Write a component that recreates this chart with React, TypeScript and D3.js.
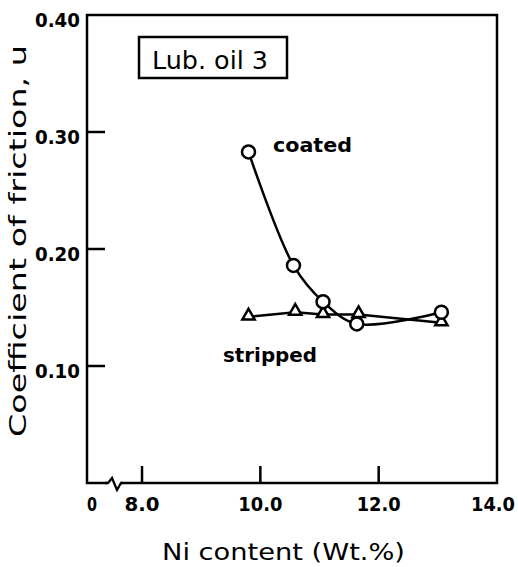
import React from 'react'
import * as d3 from 'd3'

// values
const coatedNi = [9.8, 10.56, 11.06, 11.63, 13.06]
const coatedMu = [0.283, 0.186, 0.155, 0.136, 0.146]
const strippedNi = [9.8, 10.59, 11.06, 11.66, 13.06]
const strippedMu = [0.142, 0.146, 0.144, 0.144, 0.137]
const xTicks = [8, 10, 12, 14]
const yTicks = [0.1, 0.2, 0.3, 0.4]

const W = 518
const H = 567
const left = 87
const right = 497
const top = 15
const bottom = 483

export default function App() {
  const x = d3.scaleLinear().domain([7.07, 14]).range([left, right])
  const y = d3.scaleLinear().domain([0, 0.4]).range([bottom, top])

  const coated = coatedNi.map((v, i) => [x(v), y(coatedMu[i])] as [number, number])
  const stripped = strippedNi.map((v, i) => [x(v), y(strippedMu[i])] as [number, number])

  const curve = d3.line().curve(d3.curveCatmullRom.alpha(0.5))
  const straight = d3.line()
  const tri = d3.symbol().type(d3.symbolTriangle).size(65)

  const font = "'DejaVu Sans', sans-serif"

  return (
    <svg width={W} height={H} style={{ position: 'absolute', left: 0, top: 0, background: '#fff' }}>
      {/* frame */}
      <rect x={left} y={top} width={right - left} height={bottom - top} fill="none" stroke="#000" strokeWidth={2.5} />
      {/* axis break */}
      <path d={`M${left + 20},${bottom} l14,0`} stroke="#fff" strokeWidth={4} />
      <path d={`M${left + 18},${bottom} l3,0 l4,-5 l5,12 l4,-7 l2,0`} fill="none" stroke="#000" strokeWidth={2.3} />

      {yTicks.filter(t => t < 0.4).map(t => (
        <line key={'yt' + t} x1={left} x2={left + 18} y1={y(t)} y2={y(t)} stroke="#000" strokeWidth={2.5} />
      ))}
      {xTicks.filter(t => t < 14).map(t => (
        <line key={'xt' + t} x1={x(t)} x2={x(t)} y1={bottom} y2={bottom - 17} stroke="#000" strokeWidth={2.5} />
      ))}

      {yTicks.map(t => (
        <text key={'yl' + t} x={left - 52} y={y(t) + 12} fontFamily={font} fontWeight="bold" fontSize={19}
          textLength={45} lengthAdjust="spacingAndGlyphs">
          {t.toFixed(2)}
        </text>
      ))}
      {xTicks.map(t => {
        const w = t < 10 ? 35 : 44
        const cx = t === 14 ? x(t) - 4 : x(t)
        return (
          <text key={'xl' + t} x={cx - w / 2} y={511} fontFamily={font} fontWeight="bold" fontSize={19}
            textLength={w} lengthAdjust="spacingAndGlyphs">
            {t.toFixed(1)}
          </text>
        )
      })}
      <text x={87} y={511} fontFamily={font} fontWeight="bold" fontSize={19} textLength={10} lengthAdjust="spacingAndGlyphs">0</text>

      <text x={162} y={560} fontFamily={font} fontSize={23} textLength={243} lengthAdjust="spacingAndGlyphs">
        Ni content (Wt.%)
      </text>
      <text transform="translate(26,437) rotate(-90)" fontFamily={font} fontSize={23} textLength={392} lengthAdjust="spacingAndGlyphs">
        Coefficient of friction, u
      </text>

      {/* legend box */}
      <rect x={139} y={37} width={148} height={41} fill="#fff" stroke="#000" strokeWidth={2.5} />
      <text x={152} y={69} fontFamily={font} fontSize={24} textLength={116} lengthAdjust="spacingAndGlyphs">Lub. oil 3</text>

      <path d={straight(stripped) ?? ''} fill="none" stroke="#000" strokeWidth={2.5} />
      <path d={curve(coated) ?? ''} fill="none" stroke="#000" strokeWidth={2.5} />

      {stripped.map((p, i) => (
        <path key={'s' + i} d={tri() ?? ''} transform={`translate(${p[0]},${p[1] - 1})`} fill="#fff" stroke="#000" strokeWidth={2.5} />
      ))}
      {coated.map((p, i) => (
        <circle key={'c' + i} cx={p[0]} cy={p[1]} r={6.5} fill="#fff" stroke="#000" strokeWidth={2.5} />
      ))}

      <text x={273} y={152} fontFamily={font} fontWeight="bold" fontSize={19} textLength={79} lengthAdjust="spacingAndGlyphs">coated</text>
      <text x={223} y={362} fontFamily={font} fontWeight="bold" fontSize={19} textLength={94} lengthAdjust="spacingAndGlyphs">stripped</text>
    </svg>
  )
}
